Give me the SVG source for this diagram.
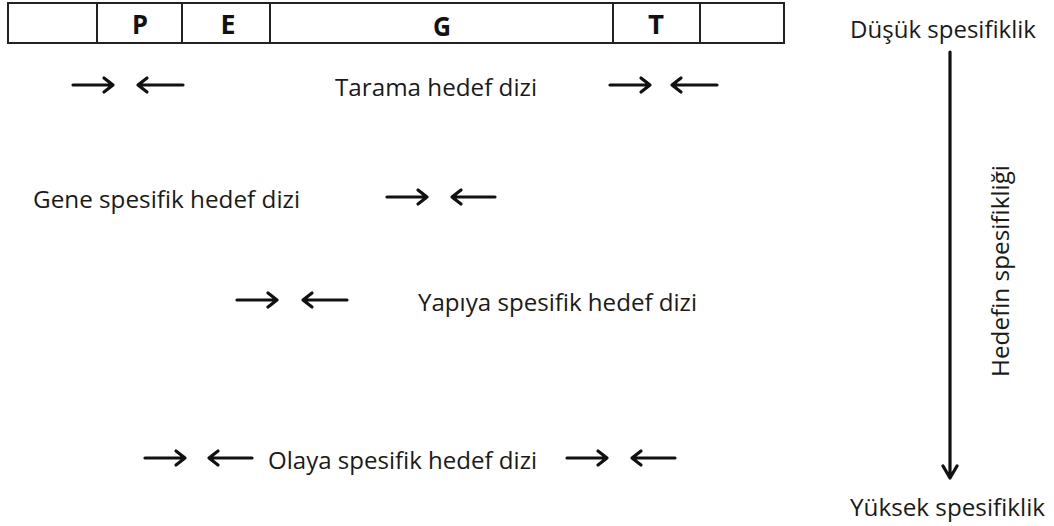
<svg xmlns="http://www.w3.org/2000/svg" width="1054" height="526" viewBox="0 0 1054 526">
<style>
.t{font-family:"Open Sans","Liberation Sans",sans-serif;font-size:24px;fill:#1a1a1a}
.b{font-family:"Open Sans","Liberation Sans",sans-serif;font-size:27px;font-weight:bold;fill:#111;text-anchor:middle}
.ar{stroke:#111;stroke-width:3.2;fill:none;stroke-linecap:round;stroke-linejoin:round}
.box{fill:#fff;stroke:#222;stroke-width:2}
</style>
<rect width="1054" height="526" fill="#fff"/>
<g id="gene-bar">
<rect class="box" x="8" y="3" width="776" height="40"/>
<line class="box" x1="97" y1="3" x2="97" y2="43"/>
<line class="box" x1="182" y1="3" x2="182" y2="43"/>
<line class="box" x1="270" y1="3" x2="270" y2="43"/>
<line class="box" x1="613" y1="3" x2="613" y2="43"/>
<line class="box" x1="700" y1="3" x2="700" y2="43"/>
<text class="b" x="140" y="34" textLength="16" lengthAdjust="spacingAndGlyphs">P</text>
<text class="b" x="228" y="34" textLength="15" lengthAdjust="spacingAndGlyphs">E</text>
<text class="b" x="442" y="36" textLength="18" lengthAdjust="spacingAndGlyphs">G</text>
<text class="b" x="656" y="34" textLength="16" lengthAdjust="spacingAndGlyphs">T</text>
</g>
<g id="labels">
<text class="t" x="335" y="96" textLength="202" lengthAdjust="spacingAndGlyphs">Tarama hedef dizi</text>
<text class="t" x="33" y="208" textLength="267" lengthAdjust="spacingAndGlyphs">Gene spesifik hedef dizi</text>
<text class="t" x="418" y="311" textLength="279" lengthAdjust="spacingAndGlyphs">Yapıya spesifik hedef dizi</text>
<text class="t" x="268" y="469" textLength="269" lengthAdjust="spacingAndGlyphs">Olaya spesifik hedef dizi</text>
<text class="t" x="850" y="38" textLength="186" lengthAdjust="spacingAndGlyphs">Düşük spesifiklik</text>
<text class="t" x="850" y="516" textLength="195" lengthAdjust="spacingAndGlyphs">Yüksek spesifiklik</text>
<text class="t" transform="translate(1009,377) rotate(-90)" textLength="212" lengthAdjust="spacingAndGlyphs">Hedefin spesifikliği</text>
</g>
<g id="connectors">
<path class="ar" d="M73 85H113M104 78L113 85L104 92"/>
<path class="ar" d="M183 85H138M147 78L138 85L147 92"/>
<path class="ar" d="M610 85H650M641 78L650 85L641 92"/>
<path class="ar" d="M717 85H672M681 78L672 85L681 92"/>
<path class="ar" d="M387 197H427M418 190L427 197L418 204"/>
<path class="ar" d="M495 197H452M461 190L452 197L461 204"/>
<path class="ar" d="M237 300H277M268 293L277 300L268 307"/>
<path class="ar" d="M347 300H303M312 293L303 300L312 307"/>
<path class="ar" d="M145 458H185M176 451L185 458L176 465"/>
<path class="ar" d="M252 458H209M218 451L209 458L218 465"/>
<path class="ar" d="M567 458H607M598 451L607 458L598 465"/>
<path class="ar" d="M675 458H632M641 451L632 458L641 465"/>
<path class="ar" d="M950 52V478M943 466L950 478L957 466"/>
</g>
</svg>
